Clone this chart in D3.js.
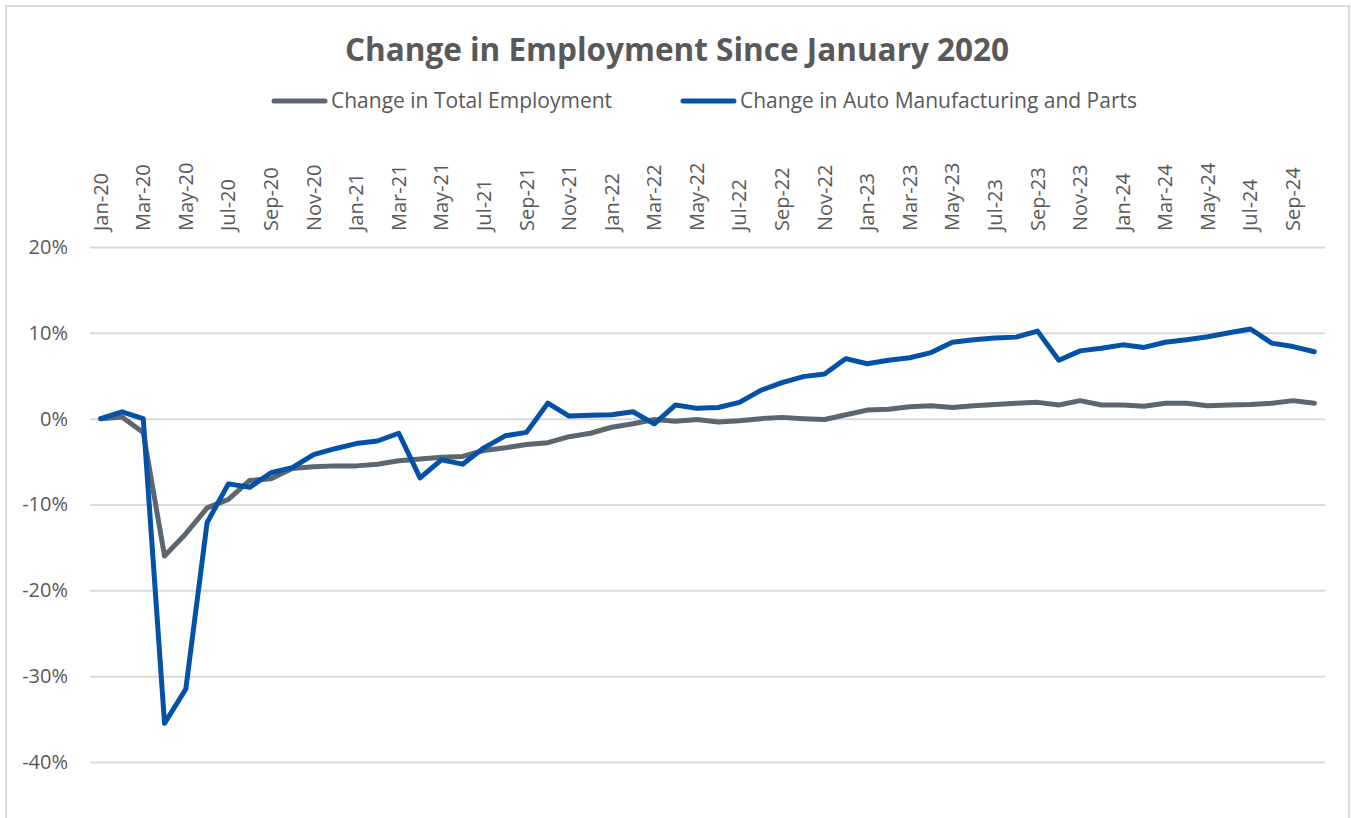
<!DOCTYPE html>
<html>
<head>
<meta charset="utf-8">
<script src="https://cdn.jsdelivr.net/npm/d3@7"></script>
<style>
  body { margin: 0; background: #fff; }
  text { font-family: "Open Sans", "Noto Sans", sans-serif; fill: #595959; }
</style>
</head>
<body>
<div id="chart"></div>
<script>
var svgWidth = 1351;
var svgHeight = 818;

// months Jan-20 .. Oct-24
var monthNames = ["Jan", "Feb", "Mar", "Apr", "May", "Jun", "Jul", "Aug", "Sep", "Oct", "Nov", "Dec"];
var months = [];
for (var yr = 20; yr <= 24; yr++) {
  monthNames.forEach(function(m, i) {
    if (yr === 24 && i > 9) return;
    months.push(m + "-" + yr);
  });
}

// percent change since Jan 2020
var totalEmployment = [
  0.0, 0.2, -1.6, -16.0, -13.4, -10.4, -9.4, -7.2, -7.0, -5.8, -5.6, -5.5,
  -5.5, -5.3, -4.9, -4.7, -4.5, -4.4, -3.7, -3.4, -3.0, -2.8, -2.1, -1.7,
  -1.0, -0.6, -0.1, -0.3, -0.1, -0.4, -0.25, 0.0, 0.15, 0.0, -0.1, 0.45,
  1.0, 1.1, 1.4, 1.5, 1.3, 1.5, 1.65, 1.8, 1.9, 1.6, 2.1, 1.6,
  1.6, 1.45, 1.8, 1.8, 1.5, 1.6, 1.65, 1.8, 2.1, 1.8
];
var autoManufacturing = [
  0.0, 0.8, 0.0, -35.5, -31.5, -12.1, -7.6, -8.0, -6.3, -5.7, -4.2, -3.5,
  -2.9, -2.6, -1.7, -6.9, -4.8, -5.3, -3.4, -2.0, -1.6, 1.8, 0.3, 0.4,
  0.45, 0.8, -0.6, 1.6, 1.2, 1.3, 1.9, 3.3, 4.2, 4.9, 5.2, 7.0,
  6.4, 6.8, 7.1, 7.7, 8.9, 9.2, 9.4, 9.5, 10.2, 6.8, 7.9, 8.2,
  8.6, 8.3, 8.9, 9.2, 9.55, 10.0, 10.45, 8.8, 8.4, 7.8
];
var yTicks = [20, 10, 0, -10, -20, -30, -40];
var seriesNames = ["Change in Total Employment", "Change in Auto Manufacturing and Parts"];
var seriesColors = ["#5b6670", "#0451a8"];

var svg = d3.select("#chart")
  .append("svg")
  .attr("width", svgWidth)
  .attr("height", svgHeight);

// chart border
svg.append("rect")
  .attr("x", 6)
  .attr("y", 6)
  .attr("width", 1343)
  .attr("height", 830)
  .attr("fill", "none")
  .attr("stroke", "#d9d9d9")
  .attr("stroke-width", 2);

var xScale = d3.scaleBand()
  .domain(months)
  .range([90, 1325]);

var yScale = d3.scaleLinear()
  .domain([-40, 20])
  .range([762, 247]);

// gridlines + y labels
var yAxis = svg.append("g")
  .attr("transform", "translate(90,0)")
  .call(d3.axisLeft(yScale)
    .tickValues(yTicks)
    .tickSize(-1235)
    .tickPadding(22)
    .tickFormat(function(d) { return d + "%"; }));
yAxis.select(".domain").remove();
yAxis.selectAll(".tick line")
  .attr("stroke", "#d9d9d9")
  .attr("stroke-width", 2);
yAxis.selectAll(".tick text")
  .style("font-size", "20px")
  .attr("fill", "#595959");

// x labels along the top, every second month
var xAxis = svg.append("g")
  .attr("transform", "translate(0,231)")
  .call(d3.axisTop(xScale)
    .tickValues(months.filter(function(d, i) { return i % 2 === 0; }))
    .tickSize(0)
    .tickPadding(0));
xAxis.select(".domain").remove();
xAxis.selectAll(".tick text")
  .attr("transform", "rotate(-90)")
  .attr("x", 0)
  .attr("y", 0)
  .attr("dy", "0.35em")
  .style("text-anchor", "start")
  .style("font-size", "20px")
  .attr("fill", "#595959");

var line = d3.line()
  .x(function(d, i) { return xScale(months[i]) + xScale.bandwidth() / 2; })
  .y(function(d) { return yScale(d); });

[totalEmployment, autoManufacturing].forEach(function(series, k) {
  svg.append("path")
    .datum(series)
    .attr("d", line)
    .attr("fill", "none")
    .attr("stroke", seriesColors[k])
    .attr("stroke-width", 5)
    .attr("stroke-linejoin", "round")
    .attr("stroke-linecap", "round");
});

// title
svg.append("text")
  .attr("x", 677)
  .attr("y", 61)
  .attr("text-anchor", "middle")
  .style("font-size", "31.5px")
  .style("font-weight", "bold")
  .text("Change in Employment Since January 2020");

// legend
var legendX = [272, 681];
seriesNames.forEach(function(name, k) {
  var g = svg.append("g").attr("transform", "translate(" + legendX[k] + ",101)");
  g.append("line")
    .attr("x1", 2).attr("x2", 53)
    .attr("y1", 0).attr("y2", 0)
    .attr("stroke", seriesColors[k])
    .attr("stroke-width", 5)
    .attr("stroke-linecap", "round");
  g.append("text")
    .attr("x", 59)
    .attr("dy", "0.35em")
    .style("font-size", "21px")
    .text(name);
});
</script>
</body>
</html>
